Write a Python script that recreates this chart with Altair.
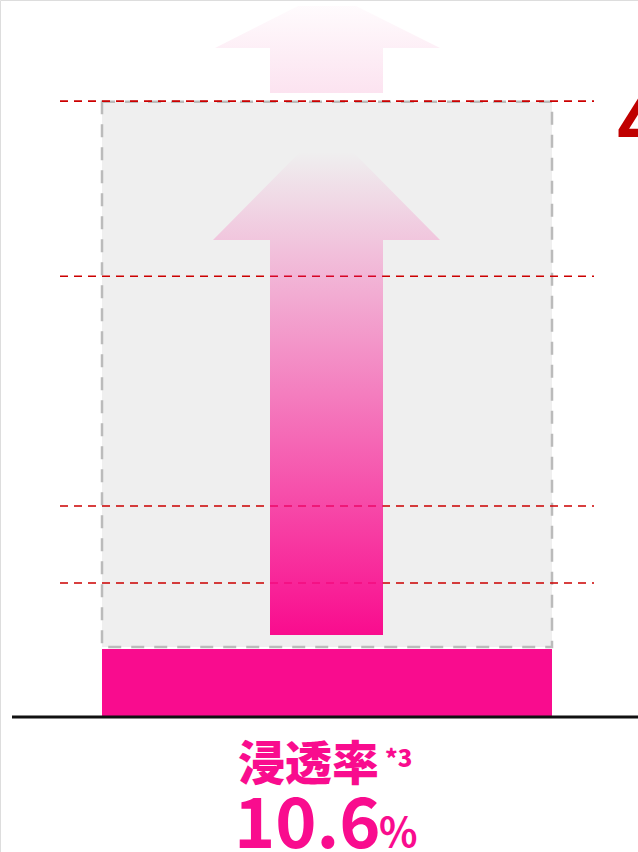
import altair as alt
import pandas as pd

# ---- data ----
bar_label = ["浸透率"]
bar_note = ["*3"]
bar_values = [10.6]            # penetration rate (%)
ref_levels = [20.9, 32.9, 68.7, 96.0]   # dashed reference levels
potential_top = [95.9]         # top of the grey "potential" box
big_label = ["4"]

PINK = "#F90C8E"
RED = "#CC0000"
FONT = "Noto Sans CJK JP"

W, H = 638, 852
Y_TOP, Y_BOT = 111.77, -21.04

xs = alt.Scale(domain=[0, W], nice=False, zero=False)
ys = alt.Scale(domain=[Y_BOT, Y_TOP], nice=False, zero=False)

# grey potential box
box_df = pd.DataFrame({"x": [102], "x2": [552], "top": potential_top, "bot": [10.91]})
box = alt.Chart(box_df).mark_rect(
    fill="#EFEFEF", stroke="#BBBBBB", strokeWidth=2.5, strokeDash=[13, 10]
).encode(
    x=alt.X("x:Q", scale=xs, axis=None), x2="x2:Q",
    y=alt.Y("top:Q", scale=ys, axis=None), y2="bot:Q",
)

# red dashed reference lines
ref_df = pd.DataFrame({"v": ref_levels})
refs = alt.Chart(ref_df).mark_rule(color=RED, strokeWidth=1.6, strokeDash=[8, 6]).encode(
    y=alt.Y("v:Q", scale=ys, axis=None), x=alt.value(60), x2=alt.value(594)
)

# inner arrow (gradient)
arrow_df = pd.DataFrame({
    "v": [12.78, 74.35, 74.37, 88.08],
    "xl": [270, 270, 213, 300],
    "xr": [383, 383, 440, 353],
})
arrow = alt.Chart(arrow_df).mark_area(
    orient="horizontal",
    color=alt.Gradient(
        gradient="linear",
        stops=[alt.GradientStop(color=PINK, offset=0),
               alt.GradientStop(color="rgba(249,12,142,0)", offset=1)],
        x1=0, x2=0, y1=1, y2=0,
    ),
).encode(
    y=alt.Y("v:Q", scale=ys, axis=None),
    x=alt.X("xl:Q", scale=xs, axis=None), x2="xr:Q",
)

# top faint arrow
top_df = pd.DataFrame({
    "v": [97.27, 104.28, 104.30, 110.83],
    "xl": [270, 270, 215, 298],
    "xr": [383, 383, 440, 356],
})
top_arrow = alt.Chart(top_df).mark_area(
    orient="horizontal",
    color=alt.Gradient(
        gradient="linear",
        stops=[alt.GradientStop(color="#FCE3F0", offset=0),
               alt.GradientStop(color="rgba(252,227,240,0.15)", offset=1)],
        x1=0, x2=0, y1=1, y2=0,
    ),
).encode(
    y=alt.Y("v:Q", scale=ys, axis=None),
    x=alt.X("xl:Q", scale=xs, axis=None), x2="xr:Q",
)

# actual bar
bar_df = pd.DataFrame({"label": bar_label, "v": bar_values, "x": [102], "x2": [552]})
bar = alt.Chart(bar_df).mark_rect(color=PINK).encode(
    x=alt.X("x:Q", scale=xs, axis=None), x2="x2:Q",
    y=alt.Y("v:Q", scale=ys, axis=None), y2=alt.datum(0),
)

# baseline
base = alt.Chart(pd.DataFrame({"v": [0]})).mark_rule(color="#111111", strokeWidth=3).encode(
    y=alt.Y("v:Q", scale=ys, axis=None), x=alt.value(12), x2=alt.value(W)
)

# texts
txt_df = pd.DataFrame({
    "label": bar_label, "note": bar_note,
    "val": [f"{v:.1f}" for v in bar_values], "unit": ["%"],
})
t_label = alt.Chart(txt_df).mark_text(
    font=FONT, fontWeight=900, fontSize=47, color=PINK, align="left", baseline="alphabetic"
).encode(text="label:N", x=alt.value(238), y=alt.value(780))
t_note = alt.Chart(txt_df).mark_text(
    font=FONT, fontWeight=900, fontSize=24, color=PINK, align="left", baseline="alphabetic"
).encode(text="note:N", x=alt.value(385), y=alt.value(767))
t_val = alt.Chart(txt_df).mark_text(
    font=FONT, fontWeight="bold", fontSize=70, color=PINK, align="left", baseline="alphabetic"
).encode(text="val:N", x=alt.value(234), y=alt.value(848))
t_unit = alt.Chart(txt_df).mark_text(
    font=FONT, fontWeight="bold", fontSize=40, color=PINK, align="left", baseline="alphabetic"
).encode(text="unit:N", x=alt.value(379), y=alt.value(847))
t_big = alt.Chart(pd.DataFrame({"t": big_label})).mark_text(
    font=FONT, fontWeight="bold", fontSize=74, color="#C00000", align="left", baseline="alphabetic"
).encode(text="t:N", x=alt.value(617), y=alt.value(150))

chart = alt.layer(
    box, refs, top_arrow, arrow, bar, base, t_label, t_note, t_val, t_unit, t_big
).properties(
    width=W, height=H, autosize=alt.AutoSizeParams(type="none"), padding=0
).configure_view(stroke=None).configure(background="#FFFFFF")

chart.save("out.html", embed_options={"renderer": "svg", "actions": False})
